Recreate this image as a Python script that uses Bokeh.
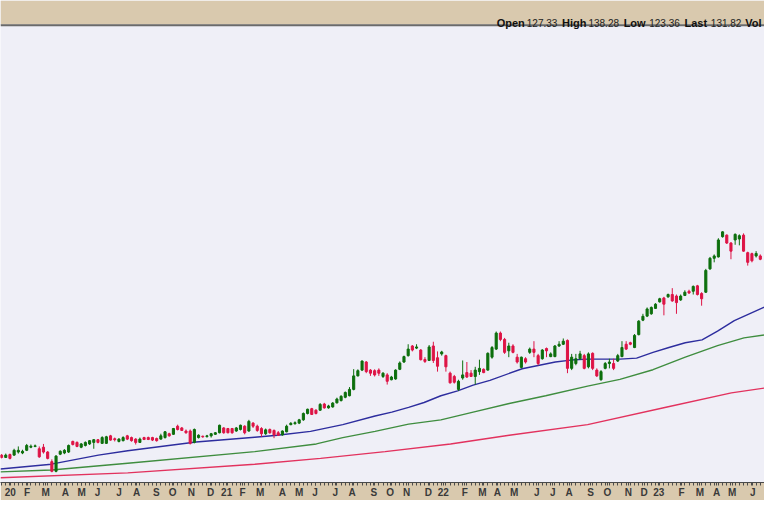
from bokeh.plotting import figure
from bokeh.models import ColumnDataSource, Range1d, LinearAxis, FixedTicker, Label, BoxAnnotation, Span
from bokeh.embed import file_html
from bokeh.resources import INLINE

# ---- weekly candles (week 0 = first week of January 2020) ----
opens = [
    27.2, 26.0, 27.5, 27.2, 28.8, 28.3, 29.7, 31.3, 31.7, 30.5,
    31.3, 28.8, 23.8, 18.8, 27.7, 28.3, 28.8, 34.3, 33.8, 31.3,
    32.2, 33.0, 33.8, 35.2, 33.3, 33.3, 37.2, 35.7, 34.3, 34.7,
    37.2, 36.3, 35.5, 33.8, 36.3, 36.3, 36.3, 35.8, 35.5, 36.3,
    38.3, 38.0, 42.2, 41.3, 39.7, 39.7, 33.8, 36.3, 37.0, 36.8,
    37.2, 38.0, 38.8, 41.3, 41.0, 41.0, 39.7, 40.5, 42.2, 39.7,
    43.8, 42.2, 41.0, 38.3, 40.5, 40.0, 38.8, 37.7, 39.3, 43.0,
    43.5, 43.8, 45.5, 48.8, 51.3, 50.5, 50.5, 53.7, 51.7, 52.2,
    54.3, 55.5, 57.2, 58.0, 61.3, 68.3, 71.3, 75.5, 71.3, 71.0,
    71.3, 68.0, 68.8, 66.3, 66.7, 71.7, 75.5, 78.8, 83.8, 82.7,
    81.7, 76.8, 76.3, 83.8, 77.7, 79.7, 78.8, 69.7, 68.0, 61.3,
    67.2, 70.0, 69.7, 68.0, 70.5, 71.7, 71.3, 78.0, 82.2, 90.5,
    87.2, 81.3, 83.8, 78.0, 72.7, 77.2, 80.5, 82.2, 78.8, 77.2,
    82.5, 78.3, 78.3, 83.8, 84.7, 86.7, 72.2, 74.7, 77.2, 78.8,
    73.0, 80.0, 71.3, 66.3, 72.2, 74.7, 74.7, 76.0, 78.3, 84.7,
    85.5, 83.0, 89.7, 97.2, 99.3, 100.5, 103.3, 106.7, 108.7, 109.3,
    110.5, 109.7, 107.7, 110.0, 112.2, 112.2, 115.0, 111.0, 111.7, 123.8,
    129.3, 130.0, 140.5, 141.3, 137.2, 138.8, 139.3, 141.3, 132.2, 131.7,
    130.5, 130.5,
]
highs = [
    27.7, 28.0, 28.0, 30.5, 31.7, 30.0, 33.0, 32.7, 32.7, 31.7,
    33.0, 29.3, 25.0, 27.2, 29.7, 30.3, 32.7, 34.7, 34.3, 33.5,
    34.3, 35.0, 35.5, 35.5, 37.0, 37.2, 37.7, 36.3, 36.0, 37.0,
    37.7, 36.8, 36.0, 36.3, 36.7, 36.8, 36.7, 36.3, 38.3, 39.7,
    38.8, 41.3, 43.0, 41.8, 40.5, 40.5, 41.0, 38.0, 37.3, 37.7,
    38.7, 39.2, 43.0, 41.7, 41.3, 41.3, 41.8, 43.0, 42.7, 45.5,
    44.3, 43.0, 41.7, 41.0, 41.0, 40.5, 39.7, 40.0, 43.0, 44.3,
    44.7, 46.0, 49.3, 51.3, 51.7, 51.0, 54.2, 54.3, 53.3, 54.7,
    57.0, 58.3, 60.2, 62.5, 71.8, 71.7, 76.3, 76.0, 71.8, 71.7,
    72.2, 70.2, 69.7, 68.3, 71.7, 75.8, 78.8, 84.7, 84.3, 84.7,
    82.2, 78.0, 84.3, 86.0, 81.0, 81.3, 79.3, 70.5, 68.8, 66.3,
    76.3, 75.5, 71.3, 73.0, 76.7, 72.2, 80.5, 83.8, 91.3, 91.3,
    88.0, 85.5, 84.7, 79.7, 78.3, 78.0, 83.0, 86.3, 79.7, 82.2,
    83.0, 80.5, 84.3, 86.3, 87.7, 87.2, 79.7, 79.7, 81.3, 79.7,
    80.5, 80.5, 72.2, 71.3, 75.5, 77.2, 77.2, 79.7, 86.3, 86.3,
    86.0, 90.0, 97.2, 100.5, 103.8, 104.3, 106.0, 108.8, 109.3, 111.0,
    113.8, 110.5, 110.5, 112.7, 113.0, 115.2, 115.5, 111.7, 123.8, 130.0,
    131.3, 139.7, 143.3, 141.7, 137.7, 142.2, 141.7, 142.2, 132.7, 132.2,
    133.0, 131.3,
]
lows = [
    25.5, 25.7, 25.0, 26.8, 28.0, 27.7, 29.3, 30.8, 31.3, 25.8,
    28.0, 25.0, 18.3, 18.3, 27.2, 27.7, 28.3, 32.2, 31.3, 30.8,
    31.7, 32.5, 30.5, 33.3, 33.0, 33.0, 34.7, 34.3, 33.8, 34.3,
    35.0, 34.2, 32.7, 33.5, 35.0, 35.0, 34.5, 34.2, 35.2, 35.8,
    36.8, 37.7, 40.0, 39.7, 38.3, 32.7, 33.3, 35.8, 36.2, 36.3,
    36.3, 37.7, 38.5, 38.3, 38.5, 38.3, 39.3, 40.0, 38.0, 39.3,
    41.3, 39.3, 36.7, 37.7, 38.3, 36.0, 37.2, 37.3, 39.0, 42.7,
    43.0, 43.3, 45.0, 48.3, 48.0, 48.3, 50.2, 51.3, 51.3, 51.8,
    54.0, 55.0, 56.7, 57.7, 60.8, 68.0, 70.8, 69.7, 68.3, 68.0,
    68.3, 67.2, 63.8, 66.0, 66.3, 71.3, 75.0, 78.3, 81.0, 82.2,
    76.3, 75.0, 76.0, 75.0, 70.5, 78.8, 70.5, 64.3, 64.3, 60.5,
    66.3, 67.2, 67.7, 63.8, 68.8, 69.7, 71.0, 77.2, 81.7, 86.3,
    79.7, 78.0, 80.0, 74.7, 72.2, 74.7, 79.7, 78.0, 73.8, 76.7,
    78.0, 78.0, 78.0, 83.3, 84.3, 69.7, 71.3, 73.8, 76.7, 71.7,
    72.2, 71.3, 67.7, 65.8, 71.7, 72.2, 71.3, 75.5, 78.0, 81.7,
    84.2, 82.7, 89.3, 96.7, 98.8, 100.0, 103.0, 106.3, 99.7, 108.8,
    106.7, 100.5, 107.2, 109.7, 110.8, 110.5, 110.0, 104.7, 111.3, 123.3,
    127.2, 129.7, 140.0, 136.7, 128.8, 136.3, 136.0, 132.7, 125.5, 127.2,
    129.7, 128.3,
]
closes = [
    26.0, 27.2, 25.5, 29.7, 29.7, 29.2, 32.2, 31.8, 32.0, 26.3,
    28.8, 25.5, 18.8, 26.7, 29.2, 29.7, 32.2, 32.7, 31.7, 33.0,
    33.8, 34.7, 35.2, 33.8, 36.3, 36.7, 35.0, 35.2, 35.5, 36.3,
    35.5, 34.7, 33.8, 35.5, 35.3, 35.3, 35.0, 34.7, 37.2, 39.3,
    37.2, 41.0, 40.5, 40.0, 38.8, 33.3, 40.5, 37.5, 36.7, 37.2,
    38.3, 38.8, 42.7, 38.8, 38.8, 38.8, 41.3, 42.7, 38.8, 44.7,
    42.2, 40.0, 38.3, 40.3, 38.8, 37.7, 37.5, 39.7, 42.2, 43.7,
    44.0, 45.5, 48.8, 51.0, 48.3, 48.8, 53.5, 51.7, 52.7, 54.2,
    56.3, 57.7, 59.7, 61.3, 68.3, 71.0, 76.0, 70.5, 69.7, 68.8,
    69.7, 69.7, 65.5, 67.7, 71.3, 75.0, 78.3, 82.2, 81.7, 83.3,
    76.7, 75.8, 83.3, 76.3, 73.3, 80.7, 73.0, 64.7, 65.0, 65.5,
    68.8, 67.7, 68.0, 71.3, 72.2, 70.0, 80.0, 83.0, 90.5, 87.2,
    80.5, 83.8, 80.5, 75.5, 78.0, 75.5, 82.2, 80.5, 74.7, 81.7,
    81.3, 79.7, 83.8, 84.7, 86.3, 72.2, 78.0, 77.2, 79.7, 72.2,
    79.7, 72.2, 68.3, 70.5, 74.7, 75.5, 72.2, 78.8, 83.0, 82.2,
    84.7, 89.3, 96.7, 99.2, 103.0, 103.8, 105.5, 108.3, 105.5, 110.5,
    107.2, 106.3, 109.7, 111.7, 111.3, 114.7, 110.5, 108.3, 123.0, 129.3,
    130.5, 138.8, 143.0, 137.2, 133.0, 141.7, 141.0, 133.0, 127.2, 128.0,
    131.8, 128.8,
]

# ---- moving averages (week position, value) ----
ma_blue_w = [-0.25, 11.9, 23.1, 30.1, 46.4, 60.4, 65.8, 73.7, 81.4, 89.1, 93.1, 97.1, 100.8, 104.8,
             108.8, 112.5, 116.5, 124.2, 132.1, 135.8, 139.8, 147.5, 151.5, 155.4, 159.2, 163.1,
             167.1, 170.8, 174.8, 182.0]
ma_blue_v = [20.0, 22.5, 27.2, 29.5, 34.0, 36.5, 37.5, 39.5, 43.0, 47.5, 49.5, 52.0, 54.5, 58.0,
             60.5, 63.5, 66.0, 72.0, 75.5, 76.5, 77.0, 77.0, 77.5, 80.5, 83.0, 85.5,
             87.0, 91.5, 97.0, 104.0]
ma_green_w = [-0.25, 11.9, 30.1, 60.4, 75.1, 81.4, 89.1, 97.1, 104.8, 112.5, 121.1, 129.8,
              139.8, 147.5, 155.4, 163.1, 170.8, 177.1, 182.0]
ma_green_v = [18.5, 19.5, 23.0, 29.0, 33.0, 36.3, 39.5, 43.3, 45.5, 49.5, 54.0, 58.0,
              63.0, 66.5, 71.5, 78.0, 84.0, 88.0, 89.5]
ma_red_w = [-0.25, 30.1, 60.4, 76.1, 91.5, 107.1, 121.1, 139.8, 158.5, 174.1, 182.0]
ma_red_v = [15.5, 18.0, 22.5, 25.5, 29.0, 33.0, 37.5, 43.0, 52.0, 59.5, 62.0]

# ---- x axis labels ----
month_ticks = [2.1, 6.1, 10.5, 15.2, 19.1, 22.9, 28.0, 32.2, 36.9, 40.8, 45.3, 49.9,
               53.7, 57.5, 61.7, 67.0, 71.0, 74.8, 79.6, 83.6, 88.8, 92.7, 96.6, 101.8,
               105.4, 110.5, 114.7, 118.3, 122.3, 127.7, 131.5, 135.4, 140.5, 144.5, 149.5, 153.3,
               156.8, 162.2, 166.6, 170.6, 174.3, 179.2]
month_labels = ["20", "F", "M", "A", "M", "J", "J", "A", "S", "O", "N", "D",
                "21", "F", "M", "A", "M", "J", "J", "A", "S", "O", "N", "D",
                "22", "F", "M", "A", "M", "J", "J", "A", "S", "O", "N", "D",
                "23", "F", "M", "A", "M", "J"]

# ---- header (last bar) ----
header_names = ["Open", "High", "Low", "Last", "Vol"]
header_values = ["127.33", "138.28", "123.36", "131.82", ""]

UP = "#0d6f0d"
DOWN = "#de1446"
LAVENDER = "#efeff7"
TAN = "#d9c9ae"

n = min(len(opens), len(highs), len(lows), len(closes))
weeks = list(range(n))
src = ColumnDataSource(dict(
    x=weeks,
    h=highs[:n],
    l=lows[:n],
    top=[max(opens[i], closes[i]) for i in range(n)],
    bot=[min(opens[i], closes[i]) for i in range(n)],
    color=[UP if closes[i] >= opens[i] else DOWN for i in range(n)],
))

Y_BOTTOM, Y_TOP = 13, 263          # frame covers the header band too
HEADER_BOTTOM = 250.5              # price level where the header band starts

p = figure(width=764, height=500, x_range=Range1d(-0.25, 182.0), y_range=Range1d(Y_BOTTOM, Y_TOP),
           output_backend="svg", toolbar_location=None,
           x_axis_location=None, y_axis_location=None,
           min_border_left=0, min_border_right=0, min_border_top=0, min_border_bottom=15)
p.background_fill_color = LAVENDER
p.border_fill_color = TAN
p.outline_line_color = None
p.grid.visible = False

# moving averages
p.line(ma_red_w, ma_red_v, line_color="#e2325e", line_width=1.4)
p.line(ma_green_w, ma_green_v, line_color="#3f8d3f", line_width=1.4)
p.line(ma_blue_w, ma_blue_v, line_color="#2d2d9e", line_width=1.4)

# candles
p.segment(x0="x", y0="l", x1="x", y1="h", line_color="color", line_width=1, source=src)
p.vbar(x="x", width=0.5, top="top", bottom="bot", fill_color="color", line_color="color",
       line_width=1, source=src)

# header band with dark rule
p.add_layout(BoxAnnotation(bottom=HEADER_BOTTOM, fill_color=TAN, fill_alpha=1.0,
                           line_color=None, level="overlay"))
p.add_layout(Span(location=HEADER_BOTTOM - 0.4, dimension="width", line_color="#6a6a6a",
                  line_width=2, level="overlay"))

# header texts
name_x = [118.1, 133.7, 148.4, 162.9, 177.4]
value_x = [125.3, 140.0, 154.5, 169.2, 0]
for nm, vl, nx, vx in zip(header_names, header_values, name_x, value_x):
    p.add_layout(Label(x=nx, y=HEADER_BOTTOM + 1.0, text=nm, text_font="Liberation Sans",
                       text_font_style="bold", text_font_size="11px", text_color="#111111",
                       text_baseline="alphabetic", text_align="left", level="overlay"))
    if vl:
        p.add_layout(Label(x=vx, y=HEADER_BOTTOM + 1.0, text=vl, text_font="Liberation Sans",
                           text_font_size="10px", text_color="#222222",
                           text_baseline="alphabetic", text_align="left", level="overlay"))

# bottom axis: weekly minor ticks, month / year labels
overrides = {t: lab for t, lab in zip(month_ticks, month_labels)}
xaxis = LinearAxis(ticker=FixedTicker(ticks=month_ticks, minor_ticks=weeks),
                   major_label_overrides=overrides)
xaxis.axis_line_color = "#4a4a4a"
xaxis.major_tick_line_color = "#4a4a4a"
xaxis.minor_tick_line_color = "#4a4a4a"
xaxis.major_tick_out = 3
xaxis.major_tick_in = 0
xaxis.minor_tick_out = 3
xaxis.minor_tick_in = 0
xaxis.major_label_standoff = 1
xaxis.major_label_text_font = "Liberation Sans"
xaxis.major_label_text_font_size = "10px"
xaxis.major_label_text_font_style = "bold"
xaxis.major_label_text_color = "#3a3a3a"
p.add_layout(xaxis, "below")

open("out.html", "w").write(file_html(p, INLINE))
